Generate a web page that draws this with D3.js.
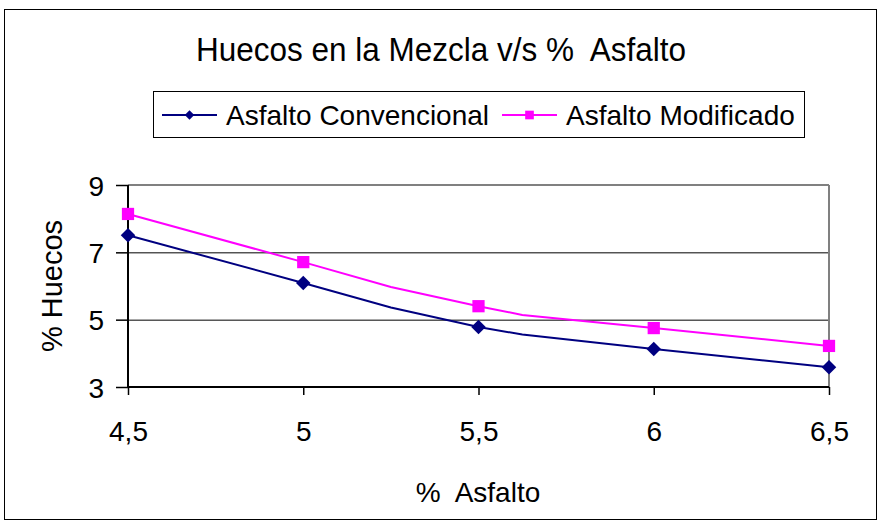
<!DOCTYPE html>
<html><head><meta charset="utf-8">
<script src="https://cdn.jsdelivr.net/npm/d3@7"></script>
<style>body{margin:0;background:#fff}svg{display:block}text{font-family:"Liberation Sans",Arial,sans-serif;fill:#000;white-space:pre}</style>
</head><body><svg id="c" width="882" height="525"></svg>
<script>
const asfalto = [4.5, 5, 5.5, 6, 6.5];
const xTickLabels = ["4,5", "5", "5,5", "6", "6,5"];
const yTicks = [3, 5, 7, 9];
const convencional = [7.51, 6.09, 4.78, 4.13, 3.59];
const modificado = [8.14, 6.71, 5.40, 4.75, 4.22];
// line path points (including unmarked intermediate points in the original)
const lineX = [4.5, 5, 5.25, 5.5, 5.625, 6, 6.5];
const convLine = [7.51, 6.09, 5.36, 4.78, 4.56, 4.13, 3.59];
const modLine = [8.14, 6.71, 5.97, 5.40, 5.14, 4.75, 4.22];
const seriesNames = ["Asfalto Convencional", "Asfalto Modificado"];

const svg = d3.select("#c");
const L = 128, R = 829, T = 185, B = 387;
const x = d3.scaleLinear().domain([4.5, 6.5]).range([L, R]);
const y = d3.scaleLinear().domain([3, 9]).range([B, T]);

svg.append("rect").attr("x", 4.5).attr("y", 9.5).attr("width", 872).attr("height", 510)
  .attr("fill", "#fff").attr("stroke", "#000").attr("stroke-width", 1);

svg.append("text").attr("x", 441).attr("y", 61).attr("text-anchor", "middle")
  .attr("font-size", 34).attr("textLength", 490).attr("lengthAdjust", "spacingAndGlyphs")
  .text("Huecos en la Mezcla v/s %  Asfalto");

// gridlines
svg.append("g").selectAll("line").data(yTicks.filter(d => d > 3 && d < 9)).join("line")
  .attr("x1", L).attr("x2", R).attr("y1", d => y(d) + 0.5).attr("y2", d => y(d) + 0.5)
  .attr("stroke", "#000").attr("stroke-width", 1);
// plot border top/right gray
svg.append("line").attr("x1", L).attr("x2", R).attr("y1", T).attr("y2", T).attr("stroke", "#808080").attr("stroke-width", 2);
svg.append("line").attr("x1", R).attr("x2", R).attr("y1", T).attr("y2", B).attr("stroke", "#808080").attr("stroke-width", 2);

// axes
const yAxis = d3.axisLeft(y).tickValues(yTicks).tickSize(12).tickPadding(12).tickFormat(d3.format("d"));
const gy = svg.append("g").attr("transform", `translate(${L},0)`).call(yAxis);
const xAxis = d3.axisBottom(x).tickValues(asfalto).tickSize(8).tickPadding(32).tickFormat((d, i) => xTickLabels[i]);
const gx = svg.append("g").attr("transform", `translate(0,${B})`).call(xAxis);
[gx, gy].forEach(g => {
  g.attr("font-size", 28).attr("font-family", "'Liberation Sans',Arial");
  g.select(".domain").attr("stroke", "#000").attr("stroke-width", 2);
  g.selectAll(".tick line").attr("stroke", "#000").attr("stroke-width", 1.5);
  g.selectAll(".tick text").attr("font-size", 28).attr("fill", "#000");
});
gy.selectAll(".tick line").attr("x2", -12);
gy.selectAll(".tick text").attr("dy", "0.36em");
gx.selectAll(".tick text").attr("dy", "0.5em");
gy.select(".domain").attr("d", `M0,${T}V${B}`);
gx.select(".domain").attr("d", `M${L},0H${R}`);

svg.append("text").attr("x", 478).attr("y", 502).attr("text-anchor", "middle").attr("font-size", 28).text("%  Asfalto");
svg.append("text").attr("transform", "translate(62,286) rotate(-90)").attr("text-anchor", "middle").attr("font-size", 29).text("% Huecos");

const line = d3.line().x(d => x(d[0])).y(d => y(d[1]));
const series = [
  {name: seriesNames[0], color: "#000080", line: lineX.map((v, i) => [v, convLine[i]]), pts: asfalto.map((v, i) => [v, convencional[i]]), rot: 45, size: 105, lsize: 45},
  {name: seriesNames[1], color: "#FF00FF", line: lineX.map((v, i) => [v, modLine[i]]), pts: asfalto.map((v, i) => [v, modificado[i]]), rot: 0, size: 150, lsize: 75}
];
series.forEach(s => {
  svg.append("path").attr("d", line(s.line)).attr("fill", "none").attr("stroke", s.color).attr("stroke-width", 2);
  svg.append("g").selectAll("path").data(s.pts).join("path")
    .attr("transform", d => `translate(${x(d[0])},${y(d[1])}) rotate(${s.rot})`)
    .attr("d", d3.symbol(d3.symbolSquare, s.size)).attr("fill", s.color);
});

// legend
svg.append("rect").attr("x", 153.5).attr("y", 91.5).attr("width", 651).attr("height", 46)
  .attr("fill", "#fff").attr("stroke", "#000").attr("stroke-width", 1);
const legX = [162, 502];
series.forEach((s, i) => {
  const g = svg.append("g").attr("transform", `translate(${legX[i]},115)`);
  g.append("line").attr("x1", 0).attr("x2", 55).attr("stroke", s.color).attr("stroke-width", 2);
  g.append("path").attr("transform", `translate(27.5,0) rotate(${s.rot})`).attr("d", d3.symbol(d3.symbolSquare, s.lsize)).attr("fill", s.color);
  g.append("text").attr("x", 64).attr("y", 10).attr("font-size", 28).text(s.name);
});
</script></body></html>
